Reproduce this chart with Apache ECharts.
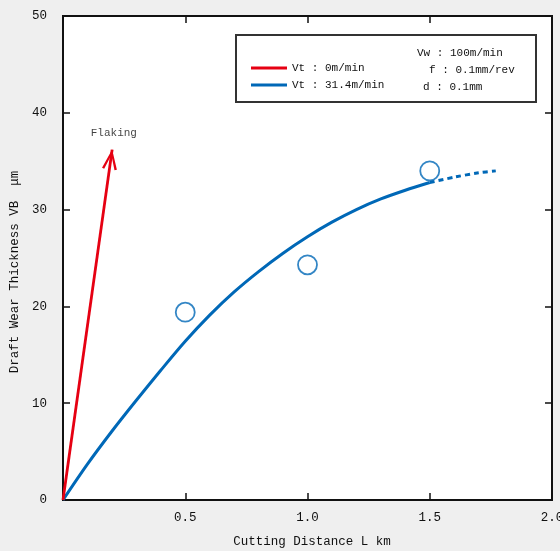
<!DOCTYPE html>
<html>
<head>
<meta charset="utf-8">
<script src="https://cdn.jsdelivr.net/npm/echarts@6/dist/echarts.min.js"></script>
<style>
html,body{margin:0;padding:0;background:#efefef;}
#chart{width:560px;height:551px;}
</style>
</head>
<body>
<div id="chart"></div>
<script>
// ---- data ----
const xTicks = [0, 0.5, 1.0, 1.5, 2.0];
const yTicks = [0, 10, 20, 30, 40, 50];
const blueName = 'Vt : 31.4m/min';
const redName = 'Vt : 0m/min';
const blueCurve = [[0,0],[0.1,3.7],[0.2,7.1],[0.3,10.3],[0.4,13.4],[0.5,16.4],[0.6,19.1],[0.7,21.5],[0.8,23.6],[0.9,25.5],[1.0,27.2],[1.1,28.7],[1.2,30.0],[1.3,31.1],[1.4,32.0],[1.5,32.8]];
const blueExtrap = [[1.5,32.8],[1.6,33.35],[1.7,33.8],[1.77,34.0]];
const measured = [[0.5,19.4],[1.0,24.3],[1.5,34.0]];
const flakingArrow = [[0,0],[0.201,36.2]];
const flakingLabelPos = [0.208,37.9];
const conditions = ['Vw : 100m/min','f : 0.1mm/rev','d : 0.1mm'];

const RED = '#e60012';
const BLUE = '#0068b7';
const FONT = 'Liberation Mono';

const chart = echarts.init(document.getElementById('chart'), null, {renderer:'canvas'});

const axisCommon = {
  type:'value',
  axisLine:{show:true, onZero:false, lineStyle:{color:'#111', width:2}},
  axisTick:{show:true, inside:true, length:7, lineStyle:{color:'#111', width:1.5}},
  splitLine:{show:false}
};

// chevron arrowhead, tip located at the symbol centre
const chevron = 'path://M7 -20 L7.01 -20 Z M7 0 L14.5 19.5 L12.2 20.3 L7 5.6 L1.8 20.3 L-0.5 19.5 Z';

const option = {
  backgroundColor:'#efefef',
  animation:false,
  grid:{left:63, right:8, top:16, bottom:51, containLabel:false, outerBoundsMode:'none',
        show:true, backgroundColor:'#ffffff', borderColor:'#111', borderWidth:2},
  legend:{
    show:true, orient:'vertical', left:251, top:61, z:20, padding:0,
    data:[redName, blueName],
    icon:'rect', itemWidth:36, itemHeight:3, itemGap:3,
    selectedMode:false,
    textStyle:{fontFamily:FONT, fontSize:11, color:'#111', lineHeight:14, padding:[0,0,0,0]}
  },
  graphic:[
    {type:'rect', z:10, shape:{x:236, y:35, width:300, height:67}, style:{fill:'#fff', stroke:'#333', lineWidth:2}},
    {type:'text', z:11, left:417, top:48, style:{text:conditions[0], font:'11px "Liberation Mono"', fill:'#111'}},
    {type:'text', z:11, left:429, top:65, style:{text:conditions[1], font:'11px "Liberation Mono"', fill:'#111'}},
    {type:'text', z:11, left:423, top:82, style:{text:conditions[2], font:'11px "Liberation Mono"', fill:'#111'}}
  ],
  xAxis:[
    Object.assign({}, axisCommon, {
      position:'bottom', min:xTicks[0], max:xTicks[xTicks.length-1], interval:0.5,
      name:'Cutting Distance L km', nameLocation:'middle', nameGap:35,
      nameTextStyle:{fontFamily:FONT, fontSize:12.5, color:'#111', padding:[0,0,0,9]},
      axisLabel:{show:true, margin:11, fontFamily:FONT, fontSize:12.5, color:'#111',
        formatter:function(v){ return v === 0 ? '' : v.toFixed(1); }}
    }),
    Object.assign({}, axisCommon, {
      position:'top', min:xTicks[0], max:xTicks[xTicks.length-1], interval:0.5,
      axisLabel:{show:false}
    })
  ],
  yAxis:[
    Object.assign({}, axisCommon, {
      position:'left', min:yTicks[0], max:yTicks[yTicks.length-1], interval:10,
      name:'Draft Wear Thickness VB  μm', nameLocation:'middle', nameGap:41,
      nameTextStyle:{fontFamily:FONT, fontSize:12.5, color:'#111', padding:[0,28,0,0]},
      axisLabel:{show:true, margin:16, fontFamily:FONT, fontSize:12.5, color:'#111'}
    }),
    Object.assign({}, axisCommon, {
      position:'right', min:yTicks[0], max:yTicks[yTicks.length-1], interval:10,
      axisLabel:{show:false}
    })
  ],
  series:[
    {
      name:redName, type:'line', data:[], color:RED, symbol:'none',
      lineStyle:{color:RED, width:2.8},
      markLine:{
        silent:true, animation:false,
        symbol:['none', chevron], symbolSize:[15, 40.3],
        label:{show:false},
        lineStyle:{color:RED, width:2.8, type:'solid'},
        data:[[{coord:flakingArrow[0]},{coord:flakingArrow[1]}]]
      }
    },
    {
      name:blueName, type:'line', data:blueCurve, color:BLUE, symbol:'none', smooth:0.3,
      lineStyle:{color:BLUE, width:3}, z:3
    },
    {
      name:blueName, type:'line', data:blueExtrap, color:BLUE, symbol:'none', smooth:0.3,
      lineStyle:{color:BLUE, width:3, type:[5,4]}, z:3
    },
    {
      name:blueName, type:'scatter', data:measured, symbol:'circle', symbolSize:19,
      itemStyle:{color:'rgba(255,255,255,0)', borderColor:BLUE, borderWidth:1.8}, z:4
    },
    {
      name:'flaking', type:'scatter', data:[flakingLabelPos], symbolSize:0, silent:true,
      label:{show:true, position:'inside', formatter:'Flaking', fontFamily:FONT, fontSize:11, color:'#111'}
    }
  ]
};
chart.setOption(option);
</script>
</body>
</html>
